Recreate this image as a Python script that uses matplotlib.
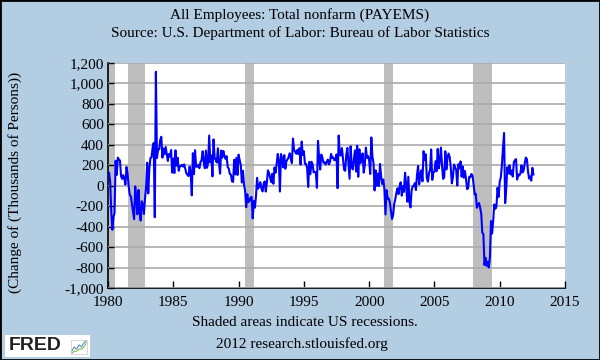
import numpy as np
import matplotlib
matplotlib.use("Agg")
import matplotlib.pyplot as plt
from matplotlib.patches import Rectangle

# monthly change of all employees, total nonfarm (thousands), Jan 1980 .. Aug 2012
change = [
    131, 127, 37, -256, -431, -305, -267, 244, 106, 275, 256, 246,        # 1980
    94, 67, 104, 70, 11, 184, 113, -4, -89, -103, -180, -256,              # 1981
    -327, -6, -130, -280, -41, -243, -340, -152, -182, -277, -126, -16,    # 1982
    225, -75, 169, 270, 278, 372, 418, -308, 1114, 271, 353, 356,          # 1983
    447, 479, 275, 363, 308, 379, 313, 242, 310, 286, 349, 128,            # 1984
    266, 124, 346, 196, 274, 146, 190, 193, 204, 187, 209, 166,            # 1985
    123, 107, 94, 187, 127, -94, 318, 114, 347, 186, 186, 205,             # 1986
    171, 232, 249, 337, 229, 171, 344, 175, 226, 491, 229, 296,            # 1987
    91, 453, 272, 252, 227, 366, 224, 118, 344, 273, 340, 293,             # 1988
    263, 289, 183, 167, 114, 108, 41, 38, 254, 111, 273, 105,              # 1989
    304, 252, 206, 32, 146, 9, -46, -210, -83, -161, -149, -115,           # 1990
    -110, -319, -150, -214, -105, 77, -29, -1, 35, -25, -56, 18,           # 1991
    42, -57, 29, 150, 124, 79, 34, 117, 19, 178, 128, 213,                 # 1992
    311, 247, -57, 310, 268, 180, 299, 166, 243, 257, 279, 317,            # 1993
    265, 221, 461, 351, 331, 312, 351, 308, 368, 206, 432, 300,            # 1994
    338, 214, 213, 174, -12, 233, 112, 234, 210, 131, 136, 129,            # 1995
    -21, 439, 276, 158, 305, 277, 225, 231, 208, 230, 256, 209,            # 1996
    233, 311, 271, 278, 250, 251, 306, -24, 491, 306, 294, 368,            # 1997
    260, 156, 146, 304, 369, 224, 68, 386, 184, 159, 263, 346,             # 1998
    138, 391, 88, 356, 221, 256, 316, 128, 199, 372, 274, 290,             # 1999
    248, 115, 472, 286, 223, -46, 150, -2, 118, -2, 213, 94,               # 2000
    16, 61, -30, -281, -44, -128, -125, -160, -244, -325, -292, -178,      # 2001
    -133, -72, -25, -82, -5, 34, -97, -2, -60, 127, 8, -156,               # 2002
    88, -159, -212, -48, -7, -1, 25, -42, 107, 194, 14, 112,               # 2003
    150, 43, 338, 250, 308, 79, 40, 119, 159, 355, 57, 130,                # 2004
    136, 240, 142, 360, 170, 245, 373, 196, 67, 84, 337, 159,              # 2005
    277, 315, 280, 182, 23, 82, 208, 183, 157, 2, 210, 171,                # 2006
    238, 88, 188, 78, 144, 71, -33, -24, 88, 84, 114, 97,                  # 2007
    14, -85, -79, -215, -186, -169, -216, -270, -459, -472, -775, -705,    # 2008
    -784, -743, -800, -695, -345, -468, -342, -183, -226, -203, -20, -110, # 2009
    40, 80, 200, 370, 516, -170, -30, 180, 120, 200, 110, 150,             # 2010
    90, 230, 250, 260, 60, 110, 100, 120, 200, 130, 150, 220,              # 2011
    275, 260, 140, 70, 90, 50, 175, 110,                                   # 2012
]
start_year = 1980

# NBER recessions (start, end) as decimal years
rec_start = [1980 + 0/12, 1981 + 6/12, 1990 + 6/12, 2001 + 2/12, 2007 + 11/12]
rec_end = [1980 + 6/12, 1982 + 10/12, 1991 + 2/12, 2001 + 10/12, 2009 + 5/12]

xticks = [1980, 1985, 1990, 1995, 2000, 2005, 2010, 2015]
yticks = list(range(-1000, 1201, 200))

# FRED logo mini-chart
icon_a = [1, 3, 2, 4, 3, 5, 6]
icon_b = [0, 1, 1, 2, 2, 3, 5]

bg = "#b3cde3"
plt.rcParams["font.family"] = ["Liberation Serif", "DejaVu Serif"]

fig = plt.figure(figsize=(6, 3.6), dpi=100, facecolor=bg)
ax = fig.add_axes([108/600, 1 - 288/360, 457/600, 225/360])
ax.set_facecolor("white")

t = start_year + np.arange(len(change)) / 12
for s, e in zip(rec_start, rec_end):
    ax.axvspan(s, e, color="#bebebe", lw=0, zorder=1)
ax.plot(t, change, color="#0000ff", lw=1.5, zorder=3)

ax.set_xlim(1980, 2015)
ax.set_ylim(-1000, 1200)
ax.set_xticks(xticks)
ax.set_yticks(yticks)
ax.set_yticklabels([f"{v:,}" for v in yticks])
ax.grid(axis="y", color="#aaaaaa", lw=1.2, zorder=2)
ax.set_axisbelow(False)
for sp in ["top", "right"]:
    ax.spines[sp].set_visible(False)
for sp in ["left", "bottom"]:
    ax.spines[sp].set_color("black")
    ax.spines[sp].set_linewidth(1.2)
ax.tick_params(direction="in", length=5, width=1, labelsize=11, colors="black", pad=3)
ax.tick_params(axis="y", length=4)
ax.tick_params(axis="x", pad=6)

fig.text(0.5, 1 - 15/360, "All Employees: Total nonfarm (PAYEMS)", ha="center", va="center", fontsize=11)
fig.text(0.5, 1 - 33/360, "Source: U.S. Department of Labor: Bureau of Labor Statistics",
         ha="center", va="center", fontsize=11)
fig.text(15/600, 1 - 182/360, "(Change of (Thousands of Persons))", rotation=90,
         ha="center", va="center", fontsize=11)
fig.text(305/600, 1 - 323/360, "Shaded areas indicate US recessions.", ha="center", va="center", fontsize=11)
fig.text(302/600, 1 - 344/360, "2012 research.stlouisfed.org", ha="center", va="center", fontsize=11)

# FRED logo
fig.patches.append(Rectangle((5/600, 1 - 357/360), 85/600, 22/360, transform=fig.transFigure,
                             facecolor="white", edgecolor="none", zorder=1))
fig.text(9/600, 1 - 346/360, "FRED", ha="left", va="center", fontsize=14, fontweight="bold",
         family="Liberation Sans", color="#222222")
iax = fig.add_axes([71/600, 1 - 354/360, 16/600, 14/360], zorder=5)
iax.set_facecolor("white")
iax.plot(icon_a, color="#5b8fd0", lw=0.8)
iax.plot(icon_b, color="#7cbf4a", lw=0.8)
iax.set_xticks([])
iax.set_yticks([])
for sp in iax.spines.values():
    sp.set_color("#cccccc")
    sp.set_linewidth(0.5)

fig.patches.append(Rectangle((0, 0), 1, 1, transform=fig.transFigure, fill=False,
                             edgecolor="black", lw=2, zorder=10))

fig.savefig("out.png", dpi=100, facecolor=bg)
